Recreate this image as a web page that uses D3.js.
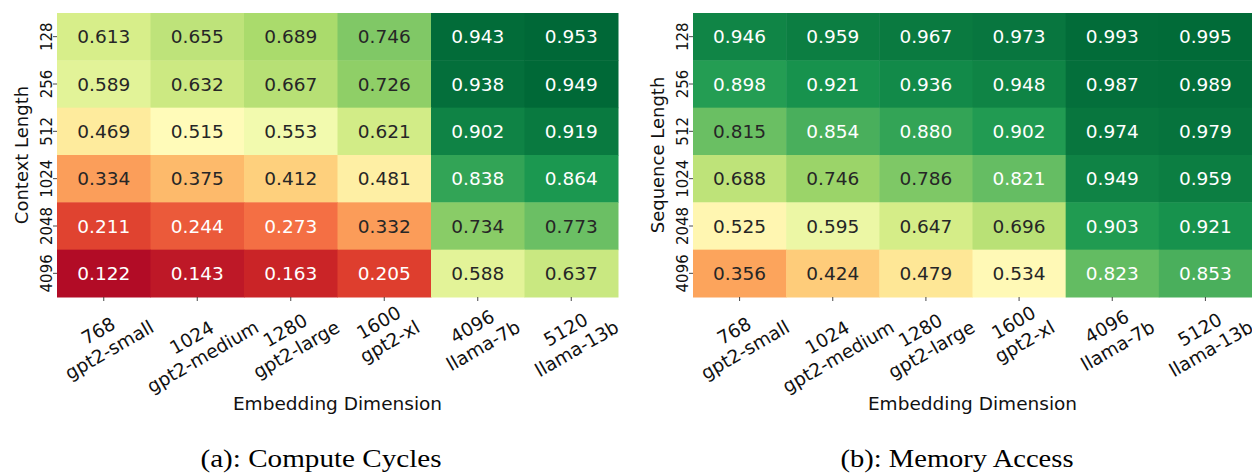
<!DOCTYPE html>
<html>
<head>
<meta charset="utf-8">
<script src="https://cdn.jsdelivr.net/npm/d3@7"></script>
<style>
  html, body { margin: 0; padding: 0; background: #fff; }
  svg { display: block; }
  text { font-family: "DejaVu Sans", sans-serif; }
</style>
</head>
<body>
<svg id="chart" width="1252" height="474"></svg>
<script>
// Row / column categories
const seqLengths = ["128", "256", "512", "1024", "2048", "4096"];
const embedDims  = ["768", "1024", "1280", "1600", "4096", "5120"];
const modelNames = ["gpt2-small", "gpt2-medium", "gpt2-large", "gpt2-xl", "llama-7b", "llama-13b"];

// Ratios, one row per sequence length, one column per model
const computeCycles = [
  [0.613, 0.655, 0.689, 0.746, 0.943, 0.953],
  [0.589, 0.632, 0.667, 0.726, 0.938, 0.949],
  [0.469, 0.515, 0.553, 0.621, 0.902, 0.919],
  [0.334, 0.375, 0.412, 0.481, 0.838, 0.864],
  [0.211, 0.244, 0.273, 0.332, 0.734, 0.773],
  [0.122, 0.143, 0.163, 0.205, 0.588, 0.637]
];
const memoryAccess = [
  [0.946, 0.959, 0.967, 0.973, 0.993, 0.995],
  [0.898, 0.921, 0.936, 0.948, 0.987, 0.989],
  [0.815, 0.854, 0.880, 0.902, 0.974, 0.979],
  [0.688, 0.746, 0.786, 0.821, 0.949, 0.959],
  [0.525, 0.595, 0.647, 0.696, 0.903, 0.921],
  [0.356, 0.424, 0.479, 0.534, 0.823, 0.853]
];

// RdYlGn control colours, linearly interpolated between the given limits
const rdylgn = ["#a50026", "#d73027", "#f46d43", "#fdae61", "#fee08b", "#ffffbf",
                "#d9ef8b", "#a6d96a", "#66bd63", "#1a9850", "#006837"];
function makeColor(vmin, vmax) {
  return d3.scaleLinear()
    .domain(rdylgn.map((_, i) => vmin + (vmax - vmin) * i / (rdylgn.length - 1)))
    .range(rdylgn)
    .interpolate(d3.interpolateRgb)
    .clamp(true);
}

function luminance(c) {
  const rgb = d3.rgb(c);
  const f = v => { v /= 255; return v <= 0.03928 ? v / 12.92 : Math.pow((v + 0.055) / 1.055, 2.4); };
  return 0.2126 * f(rgb.r) + 0.7152 * f(rgb.g) + 0.0722 * f(rgb.b);
}

const svg = d3.select("#chart");

function heatmap(opts) {
  const { data, x0, x1, y0, y1, yLabel, caption, captionX, captionW, yLabelX, vmin, vmax } = opts;
  const g = svg.append("g");
  const color = makeColor(vmin, vmax);

  const x = d3.scaleBand().domain(d3.range(embedDims.length)).range([x0, x1]);
  const y = d3.scaleBand().domain(seqLengths).range([y0, y1]);

  const cells = [];
  data.forEach((row, r) => row.forEach((v, c) => cells.push({ r, c, v })));

  g.selectAll("rect.cell").data(cells).join("rect")
    .attr("class", "cell")
    .attr("x", d => x(d.c))
    .attr("y", d => y(seqLengths[d.r]))
    .attr("width", x.bandwidth() + 0.5)
    .attr("height", y.bandwidth() + 0.5)
    .attr("fill", d => color(d.v));

  g.selectAll("text.annot").data(cells).join("text")
    .attr("class", "annot")
    .attr("x", d => x(d.c) + x.bandwidth() / 2)
    .attr("y", d => y(seqLengths[d.r]) + y.bandwidth() / 2)
    .attr("text-anchor", "middle")
    .attr("dominant-baseline", "central")
    .attr("font-size", 18.5)
    .attr("fill", d => luminance(color(d.v)) > 0.408 ? "#262626" : "#ffffff")
    .text(d => d3.format(".3f")(d.v));

  // Y axis: ticks and rotated labels
  const yAxis = d3.axisLeft(y).tickSize(4).tickPadding(0).tickFormat("");
  const ya = g.append("g").attr("transform", `translate(${x0},0)`).call(yAxis);
  ya.select(".domain").remove();
  ya.selectAll(".tick line").attr("stroke", "#333").attr("stroke-width", 0.9);
  g.selectAll("text.ytick").data(seqLengths).join("text")
    .attr("class", "ytick")
    .attr("transform", d => `translate(${x0 - 5},${y(d) + y.bandwidth() / 2}) rotate(-90)`)
    .attr("text-anchor", "middle")
    .attr("font-size", 15)
    .attr("fill", "#111")
    .text(d => d);

  g.append("text")
    .attr("transform", `translate(${yLabelX},${(y0 + y1) / 2}) rotate(-90)`)
    .attr("text-anchor", "middle")
    .attr("font-size", 18)
    .attr("fill", "#111")
    .text(yLabel);

  // X axis: ticks and two-line labels rotated 30 degrees
  const xAxis = d3.axisBottom(x).tickSize(4).tickFormat("");
  const xa = g.append("g").attr("transform", `translate(0,${y1})`).call(xAxis);
  xa.select(".domain").remove();
  xa.selectAll(".tick line").attr("stroke", "#333").attr("stroke-width", 0.9);

  const fs = 18.5, gap = 11;
  const lab = g.selectAll("g.xtick").data(embedDims.map((d, i) => ({ i, dim: d, model: modelNames[i] })))
    .join("g").attr("class", "xtick");
  lab.append("text").attr("y", -gap).attr("text-anchor", "middle")
    .attr("dominant-baseline", "central").attr("font-size", fs).attr("fill", "#111")
    .text(d => d.dim);
  lab.append("text").attr("y", gap).attr("text-anchor", "middle")
    .attr("dominant-baseline", "central").attr("font-size", fs).attr("fill", "#111")
    .text(d => d.model);
  const a = Math.PI / 6;
  lab.each(function (d) {
    const w = d3.max(d3.select(this).selectAll("text").nodes(), n => n.getComputedTextLength());
    const h = 2 * gap + 1.16 * fs;
    const H = w * Math.sin(a) + h * Math.cos(a);
    const top = y1;
    d3.select(this).attr("transform",
      `translate(${x(d.i) + x.bandwidth() / 2},${top + H / 2}) rotate(-30)`);
  });

  g.append("text")
    .attr("x", (x0 + x1) / 2).attr("y", 410)
    .attr("text-anchor", "middle")
    .attr("font-size", 18.5)
    .attr("fill", "#111")
    .text("Embedding Dimension");

  g.append("text")
    .attr("x", captionX).attr("y", 467)
    .attr("text-anchor", "middle")
    .attr("font-size", 26)
    .attr("textLength", captionW)
    .attr("lengthAdjust", "spacingAndGlyphs")
    .style("font-family", "'Liberation Serif', serif")
    .attr("fill", "#000")
    .text(caption);
}

heatmap({ data: computeCycles, x0: 57, x1: 618, y0: 13, y1: 297, vmin: 0.10, vmax: 0.95,
  yLabel: "Context Length", yLabelX: 28, caption: "(a): Compute Cycles", captionX: 321, captionW: 241 });
heatmap({ data: memoryAccess, x0: 693, x1: 1252, y0: 13, y1: 297, vmin: 0.10, vmax: 1.00,
  yLabel: "Sequence Length", yLabelX: 664, caption: "(b): Memory Access", captionX: 957, captionW: 233 });
</script>
</body>
</html>
